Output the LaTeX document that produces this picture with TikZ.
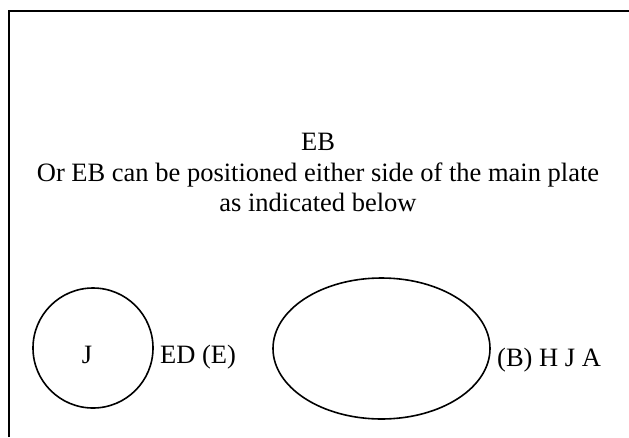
\documentclass[tikz,border=0pt]{standalone}
\usepackage{fontspec}
\setmainfont{Liberation Serif}
\usetikzlibrary{shapes.geometric}
\begin{document}
\begin{tikzpicture}[x=1pt, y=-1pt, every node/.style={font=\fontsize{26.5}{30.5}\selectfont, inner sep=0pt}, plate/.style={draw, line width=1.6pt}]
  \useasboundingbox (0,0) rectangle (629,437);
  \draw[line width=2pt] (9,437) -- (9,11) -- (629,11);
  \node[align=center, anchor=north] (note) at (318,133) {EB\\Or EB can be positioned either side of the main plate\\as indicated below};
  \node[plate, circle, minimum size=120pt] (small) at (93,348) {};
  \node[plate, ellipse, minimum width=217pt, minimum height=141pt] (main) at (381.5,348.5) {};
  \node[anchor=base] (smalltxt) at (87,363) {J};
  \node[anchor=base west] (left) at (160,363) {ED (E)};
  \node[anchor=base west] (right) at (497,366) {(B) H J A};
\end{tikzpicture}
\end{document}
